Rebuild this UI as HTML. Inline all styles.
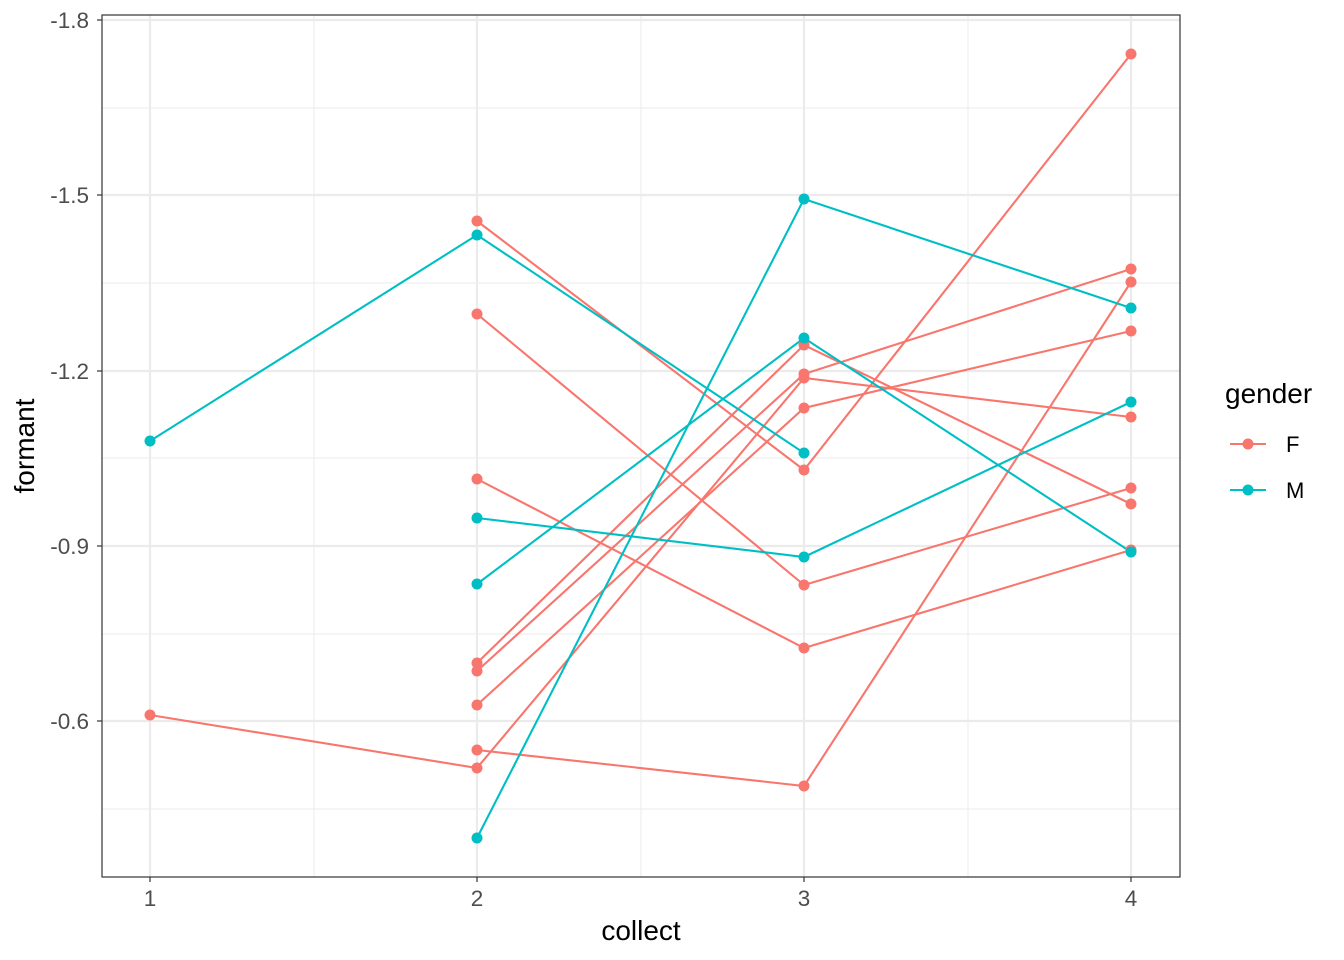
<!DOCTYPE html>
<html><head><meta charset="utf-8"><style>body{margin:0;background:#fff}svg{display:block}text{font-family:"Liberation Sans",sans-serif}</style></head><body>
<svg width="1344" height="960" xmlns="http://www.w3.org/2000/svg">
<rect width="1344" height="960" fill="#fff"/>
<g stroke="#ebebeb" stroke-width="1">
<line x1="314" y1="15" x2="314" y2="877"/><line x1="641" y1="15" x2="641" y2="877"/><line x1="968" y1="15" x2="968" y2="877"/>
<line x1="102" y1="108" x2="1180" y2="108"/><line x1="102" y1="283" x2="1180" y2="283"/><line x1="102" y1="458" x2="1180" y2="458"/><line x1="102" y1="634" x2="1180" y2="634"/><line x1="102" y1="809" x2="1180" y2="809"/>
</g>
<g stroke="#ebebeb" stroke-width="2.2">
<line x1="150" y1="15" x2="150" y2="877"/><line x1="477" y1="15" x2="477" y2="877"/><line x1="804" y1="15" x2="804" y2="877"/><line x1="1131" y1="15" x2="1131" y2="877"/>
<line x1="102" y1="20" x2="1180" y2="20"/><line x1="102" y1="195" x2="1180" y2="195"/><line x1="102" y1="371" x2="1180" y2="371"/><line x1="102" y1="546" x2="1180" y2="546"/><line x1="102" y1="721" x2="1180" y2="721"/>
</g>
<g fill="none" stroke="#F8766D" stroke-width="2.1">
<polyline points="477,221 804,470 1131,54"/>
<polyline points="477,314 804,585 1131,488"/>
<polyline points="477,479 804,648 1131,550"/>
<polyline points="150,715 477,768 804,378 1131,417"/>
<polyline points="477,750 804,786 1131,282"/>
<polyline points="477,663 804,345 1131,504"/>
<polyline points="477,671 804,374 1131,269"/>
<polyline points="477,705 804,408 1131,331"/>
</g>
<g fill="none" stroke="#00BFC4" stroke-width="2.1">
<polyline points="150,441 477,235 804,453"/>
<polyline points="477,518 804,557 1131,402"/>
<polyline points="477,584 804,338 1131,552"/>
<polyline points="477,838 804,199 1131,308"/>
</g>
<g fill="#F8766D">
<circle cx="477" cy="221" r="5.5"/><circle cx="804" cy="470" r="5.5"/><circle cx="1131" cy="54" r="5.5"/>
<circle cx="477" cy="314" r="5.5"/><circle cx="804" cy="585" r="5.5"/><circle cx="1131" cy="488" r="5.5"/>
<circle cx="477" cy="479" r="5.5"/><circle cx="804" cy="648" r="5.5"/><circle cx="1131" cy="550" r="5.5"/>
<circle cx="150" cy="715" r="5.5"/><circle cx="477" cy="768" r="5.5"/><circle cx="804" cy="378" r="5.5"/><circle cx="1131" cy="417" r="5.5"/>
<circle cx="477" cy="750" r="5.5"/><circle cx="804" cy="786" r="5.5"/><circle cx="1131" cy="282" r="5.5"/>
<circle cx="477" cy="663" r="5.5"/><circle cx="804" cy="345" r="5.5"/><circle cx="1131" cy="504" r="5.5"/>
<circle cx="477" cy="671" r="5.5"/><circle cx="804" cy="374" r="5.5"/><circle cx="1131" cy="269" r="5.5"/>
<circle cx="477" cy="705" r="5.5"/><circle cx="804" cy="408" r="5.5"/><circle cx="1131" cy="331" r="5.5"/>
</g>
<g fill="#00BFC4">
<circle cx="150" cy="441" r="5.5"/><circle cx="477" cy="235" r="5.5"/><circle cx="804" cy="453" r="5.5"/>
<circle cx="477" cy="518" r="5.5"/><circle cx="804" cy="557" r="5.5"/><circle cx="1131" cy="402" r="5.5"/>
<circle cx="477" cy="584" r="5.5"/><circle cx="804" cy="338" r="5.5"/><circle cx="1131" cy="552" r="5.5"/>
<circle cx="477" cy="838" r="5.5"/><circle cx="804" cy="199" r="5.5"/><circle cx="1131" cy="308" r="5.5"/>
</g>
<rect x="102" y="15" width="1078" height="862" fill="none" stroke="#333" stroke-width="1.2"/>
<g stroke="#333" stroke-width="1.2">
<line x1="97" y1="20" x2="102" y2="20"/><line x1="97" y1="195" x2="102" y2="195"/><line x1="97" y1="371" x2="102" y2="371"/><line x1="97" y1="546" x2="102" y2="546"/><line x1="97" y1="721" x2="102" y2="721"/>
<line x1="150" y1="877" x2="150" y2="882"/><line x1="477" y1="877" x2="477" y2="882"/><line x1="804" y1="877" x2="804" y2="882"/><line x1="1131" y1="877" x2="1131" y2="882"/>
</g>
<g fill="#4d4d4d" font-size="22.5" text-anchor="end">
<text x="89" y="28">-1.8</text><text x="89" y="203">-1.5</text><text x="89" y="379">-1.2</text><text x="89" y="554">-0.9</text><text x="89" y="729">-0.6</text>
</g>
<g fill="#4d4d4d" font-size="22.5" text-anchor="middle">
<text x="150" y="906">1</text><text x="477" y="906">2</text><text x="804" y="906">3</text><text x="1131" y="906">4</text>
</g>
<text x="641" y="940" font-size="28" text-anchor="middle" fill="#000">collect</text>
<text transform="translate(34,446) rotate(-90)" font-size="28" text-anchor="middle" fill="#000">formant</text>
<text x="1225" y="403" font-size="28" fill="#000">gender</text>
<line x1="1230" y1="444" x2="1266" y2="444" stroke="#F8766D" stroke-width="2.1"/><circle cx="1248" cy="444" r="5.5" fill="#F8766D"/>
<line x1="1230" y1="490" x2="1266" y2="490" stroke="#00BFC4" stroke-width="2.1"/><circle cx="1248" cy="490" r="5.5" fill="#00BFC4"/>
<text x="1286" y="452" font-size="22" fill="#000">F</text>
<text x="1286" y="498" font-size="22" fill="#000">M</text>
</svg>
</body></html>
